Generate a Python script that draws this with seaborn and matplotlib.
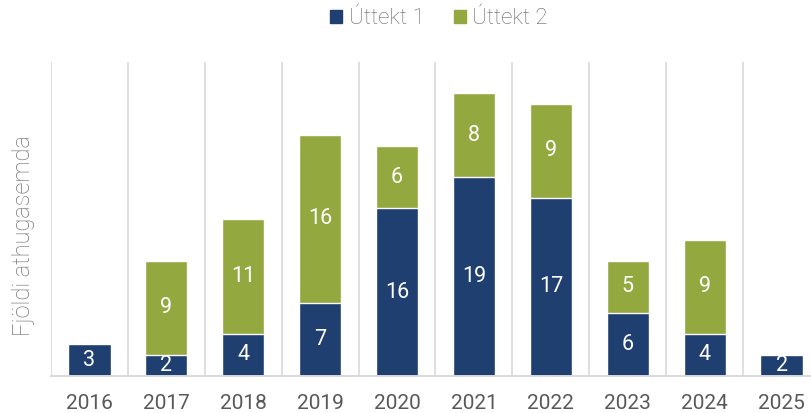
import matplotlib
matplotlib.use("Agg")
import matplotlib.pyplot as plt
import pandas as pd
import seaborn as sns

years = ["2016", "2017", "2018", "2019", "2020", "2021", "2022", "2023", "2024", "2025"]
uttekt1 = [3, 2, 4, 7, 16, 19, 17, 6, 4, 2]
uttekt2 = [0, 9, 11, 16, 6, 8, 9, 5, 9, 0]
series_names = ["Úttekt 1", "Úttekt 2"]
y_label = "Fjöldi athugasemda"

BLUE = "#1f3f71"
GREEN = "#93a83f"
GRID = "#d9d9d9"
TEXT = "#595959"

sns.set_theme(style="white")
plt.rcParams["font.family"] = ["Roboto", "DejaVu Sans"]

df = pd.DataFrame({"Ár": years, "u1": uttekt1, "u2": uttekt2})
df["total"] = df["u1"] + df["u2"]

fig = plt.figure(figsize=(8.12, 4.13), dpi=100)
ax = fig.add_axes([51 / 812, 37.3 / 413, 769 / 812, 313.7 / 413])

# stacked: total in green underneath, first series in blue on top
sns.barplot(data=df, x="Ár", y="total", color=GREEN, width=0.55, saturation=1, ax=ax, zorder=2)
sns.barplot(data=df, x="Ár", y="u1", color=BLUE, width=0.55, saturation=1, ax=ax, zorder=3)

ax.set_xlim(-0.5, len(years) - 0.5)
ax.set_ylim(0, 30)

for i in range(len(years) + 1):
    ax.axvline(i - 0.5, color=GRID, lw=1.2, zorder=1)
for s in ["top", "right", "left"]:
    ax.spines[s].set_visible(False)
ax.spines["bottom"].set_color(GRID)
ax.spines["bottom"].set_linewidth(1.4)
ax.spines["bottom"].set_zorder(4)

ax.set_yticks([])
ax.set_xlabel("")
ax.set_ylabel("")
ax.tick_params(axis="x", length=0, pad=13, labelsize=15, labelcolor=TEXT)

for i, (a, b) in enumerate(zip(uttekt1, uttekt2)):
    if a:
        ax.text(i, a / 2, str(a), ha="center", va="center", color="white", fontsize=15.5, zorder=5)
    if b:
        ax.text(i, a + b / 2, str(b), ha="center", va="center", color="white", fontsize=15.5, zorder=5)

fig.text(24 / 812, 1 - 236 / 413, y_label, rotation=90, ha="center", va="center",
         fontsize=17, fontweight="light", color="#737373")

handles = [plt.Rectangle((0, 0), 1, 1, color=BLUE), plt.Rectangle((0, 0), 1, 1, color=GREEN)]
fig.legend(handles, series_names, loc="center", bbox_to_anchor=(439 / 812, 1 - 19 / 413), ncol=2,
           frameon=False, prop={"size": 16, "weight": "light"}, labelcolor="#666666",
           handlelength=0.55, handleheight=0.55, handletextpad=0.3, columnspacing=1.3)

fig.savefig("out.png", dpi=100)
